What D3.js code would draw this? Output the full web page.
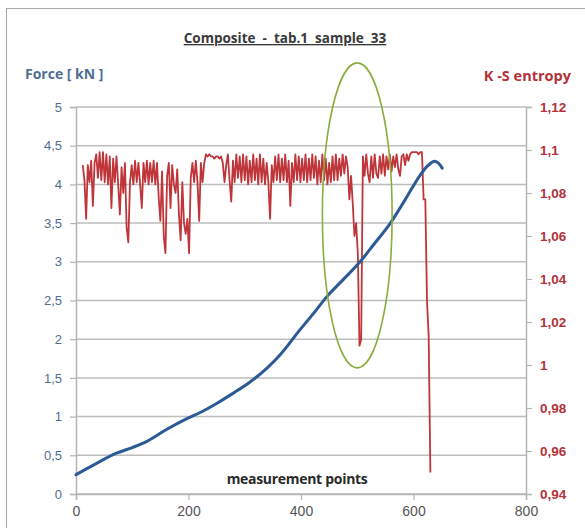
<!DOCTYPE html>
<html>
<head>
<meta charset="utf-8">
<script src="https://cdn.jsdelivr.net/npm/d3@7"></script>
<style>
  html, body { margin: 0; padding: 0; background: #fff; }
  svg { display: block; font-family: "Open Sans", Lato, sans-serif; }
</style>
</head>
<body>
<div id="chart"></div>
<script>
// Force (left axis) + K-S entropy (right axis) vs measurement points
const title = "Composite  -  tab.1  sample  33";
const leftLabel = "Force [ kN ]";
const rightLabel = "K -S entropy";
const xLabel = "measurement points";

const xTicks = [0, 200, 400, 600, 800];
const forceTicks = [0, 0.5, 1, 1.5, 2, 2.5, 3, 3.5, 4, 4.5, 5];
const entropyTicks = [0.94, 0.96, 0.98, 1, 1.02, 1.04, 1.06, 1.08, 1.1, 1.12];

// force curve
const forceX = [0, 30, 73, 100, 126, 160, 199, 220, 250, 279, 310, 340, 363, 398, 422, 446, 475, 505, 530, 558, 585, 612, 625, 638, 645, 651];
const forceY = [0.25, 0.37, 0.53, 0.60, 0.68, 0.83, 0.98, 1.05, 1.17, 1.30, 1.45, 1.63, 1.80, 2.12, 2.33, 2.55, 2.77, 3.00, 3.23, 3.49, 3.80, 4.12, 4.24, 4.30, 4.27, 4.21];

// K-S entropy, every 3rd measurement point starting at 12
const entropyStart = 12, entropyStep = 3;
const entropy = [
  1.093, 1.086, 1.068, 1.093, 1.085, 1.095, 1.074, 1.094, 1.098, 1.087,
  1.099, 1.086, 1.099, 1.085, 1.098, 1.084, 1.097, 1.073, 1.096, 1.085,
  1.097, 1.084, 1.070, 1.092, 1.080, 1.094, 1.064, 1.057, 1.085, 1.093,
  1.084, 1.095, 1.085, 1.094, 1.084, 1.073, 1.094, 1.085, 1.095, 1.084,
  1.094, 1.085, 1.095, 1.084, 1.094, 1.078, 1.067, 1.090, 1.060, 1.052,
  1.088, 1.094, 1.073, 1.093, 1.084, 1.080, 1.091, 1.070, 1.058, 1.085,
  1.066, 1.061, 1.068, 1.052, 1.087, 1.094, 1.085, 1.095, 1.085, 1.067,
  1.094, 1.085, 1.094, 1.098, 1.097, 1.098, 1.097, 1.097, 1.096, 1.097,
  1.097, 1.096, 1.097, 1.094, 1.085, 1.093, 1.098, 1.086, 1.076, 1.095,
  1.085, 1.098, 1.087, 1.097, 1.085, 1.098, 1.086, 1.097, 1.084, 1.095,
  1.085, 1.098, 1.086, 1.096, 1.084, 1.098, 1.085, 1.096, 1.084, 1.094,
  1.085, 1.068, 1.093, 1.085, 1.097, 1.086, 1.098, 1.085, 1.096, 1.086,
  1.098, 1.085, 1.095, 1.074, 1.094, 1.085, 1.098, 1.086, 1.097, 1.085,
  1.096, 1.086, 1.098, 1.085, 1.096, 1.086, 1.098, 1.087, 1.097, 1.084,
  1.095, 1.085, 1.098, 1.086, 1.096, 1.084, 1.094, 1.085, 1.097, 1.086,
  1.098, 1.086, 1.096, 1.088, 1.098, 1.089, 1.097,
  1.092, 1.077, 1.088, 1.075, 1.060, 1.066, 1.052, 1.009, 1.012,
  1.097, 1.088, 1.098, 1.089, 1.085, 1.097, 1.087, 1.098, 1.089, 1.087,
  1.097, 1.089, 1.098, 1.088, 1.097, 1.091, 1.098, 1.090, 1.097, 1.092,
  1.098, 1.091, 1.088, 1.097, 1.098, 1.093, 1.098, 1.095, 1.098, 1.099,
  1.099, 1.099, 1.099, 1.098, 1.099, 1.099, 1.077, 1.077, 1.030, 1.013,
  0.950
];

// highlighted region (ellipse), in data units
const highlight = { x: 500, y: 3.6, rx: 62, ry: 1.97 };

const W = 585, H = 528;
const margin = { top: 107, right: 59, bottom: 34, left: 76 };
const iw = W - margin.left - margin.right;
const ih = H - margin.top - margin.bottom;

const comma = d3.formatLocale({ decimal: ",", thousands: ".", grouping: [3], currency: ["", ""] });
const fmt = v => comma.format("~g")(v);

const svg = d3.select("#chart").append("svg").attr("width", W).attr("height", H);

// chart frame
svg.append("rect").attr("x", 6.5).attr("y", 8.5).attr("width", 620).attr("height", 560)
  .attr("fill", "none").attr("stroke", "#a8a8a8").attr("stroke-width", 1);

const g = svg.append("g").attr("transform", `translate(${margin.left},${margin.top})`);

const x = d3.scaleLinear().domain([0, 800]).range([0, iw]);
const yF = d3.scaleLinear().domain([0, 5]).range([ih, 0]);
const yE = d3.scaleLinear().domain([0.94, 1.12]).range([ih, 0]);

// gridlines
g.append("g").selectAll("line").data(forceTicks).join("line")
  .attr("x1", 0).attr("x2", iw).attr("y1", d => yF(d)).attr("y2", d => yF(d))
  .attr("stroke", "#bdbdbd").attr("stroke-width", 1.5);

// axes
const axL = g.append("g").call(d3.axisLeft(yF).tickValues(forceTicks).tickFormat(fmt).tickSize(6).tickPadding(8));
const axR = g.append("g").attr("transform", `translate(${iw},0)`)
  .call(d3.axisRight(yE).tickValues(entropyTicks).tickFormat(fmt).tickSize(6).tickPadding(8));
const axB = g.append("g").attr("transform", `translate(0,${ih})`)
  .call(d3.axisBottom(x).tickValues(xTicks).tickFormat(d3.format("d")).tickSize(6).tickPadding(6));

[axL, axR, axB].forEach(a => {
  a.select(".domain").attr("stroke", "#b5b5b5").attr("stroke-width", 1.5);
  a.selectAll(".tick line").attr("stroke", "#b5b5b5").attr("stroke-width", 1.2);
});
axL.selectAll("text").attr("fill", "#4f6e92").attr("font-size", 13);
axR.selectAll("text").attr("fill", "#b3323a").attr("font-size", 13.5).attr("font-weight", "bold");
axB.selectAll("text").attr("fill", "#555").attr("font-size", 14);

// K-S entropy
const entropyData = entropy.map((v, i) => [entropyStart + i * entropyStep, v]);
g.append("path").datum(entropyData)
  .attr("fill", "none").attr("stroke", "#c0353a").attr("stroke-width", 1.8).attr("stroke-linejoin", "round")
  .attr("d", d3.line().x(d => x(d[0])).y(d => yE(d[1])));

// force
const forceData = forceX.map((v, i) => [v, forceY[i]]);
g.append("path").datum(forceData)
  .attr("fill", "none").attr("stroke", "#2b5a94").attr("stroke-width", 3).attr("stroke-linecap", "round")
  .attr("d", d3.line().curve(d3.curveMonotoneX).x(d => x(d[0])).y(d => yF(d[1])));

// ellipse highlight
g.append("ellipse")
  .attr("cx", x(highlight.x)).attr("cy", yF(highlight.y))
  .attr("rx", x(highlight.x + highlight.rx) - x(highlight.x))
  .attr("ry", yF(highlight.y - highlight.ry) - yF(highlight.y))
  .attr("fill", "none").attr("stroke", "#8aac3c").attr("stroke-width", 1.6);

// texts
svg.append("text").attr("x", 285).attr("y", 43).attr("text-anchor", "middle")
  .style("white-space", "pre")
  .attr("font-size", 13.5).attr("font-weight", "bold").attr("fill", "#3a3a3a")
  .attr("text-decoration", "underline").text(title);
svg.append("text").attr("x", 25).attr("y", 79)
  .attr("font-size", 14).attr("font-weight", "bold").attr("fill", "#4f6e92").text(leftLabel);
svg.append("text").attr("x", 571).attr("y", 81).attr("text-anchor", "end")
  .attr("font-size", 14.5).attr("font-weight", "bold").attr("fill", "#b3323a").text(rightLabel);
g.append("text").attr("x", x(393)).attr("y", ih - 10).attr("text-anchor", "middle")
  .attr("font-size", 14).attr("font-weight", "bold").attr("fill", "#2a2a2a")
  .attr("letter-spacing", -0.3).text(xLabel);
</script>
</body>
</html>
